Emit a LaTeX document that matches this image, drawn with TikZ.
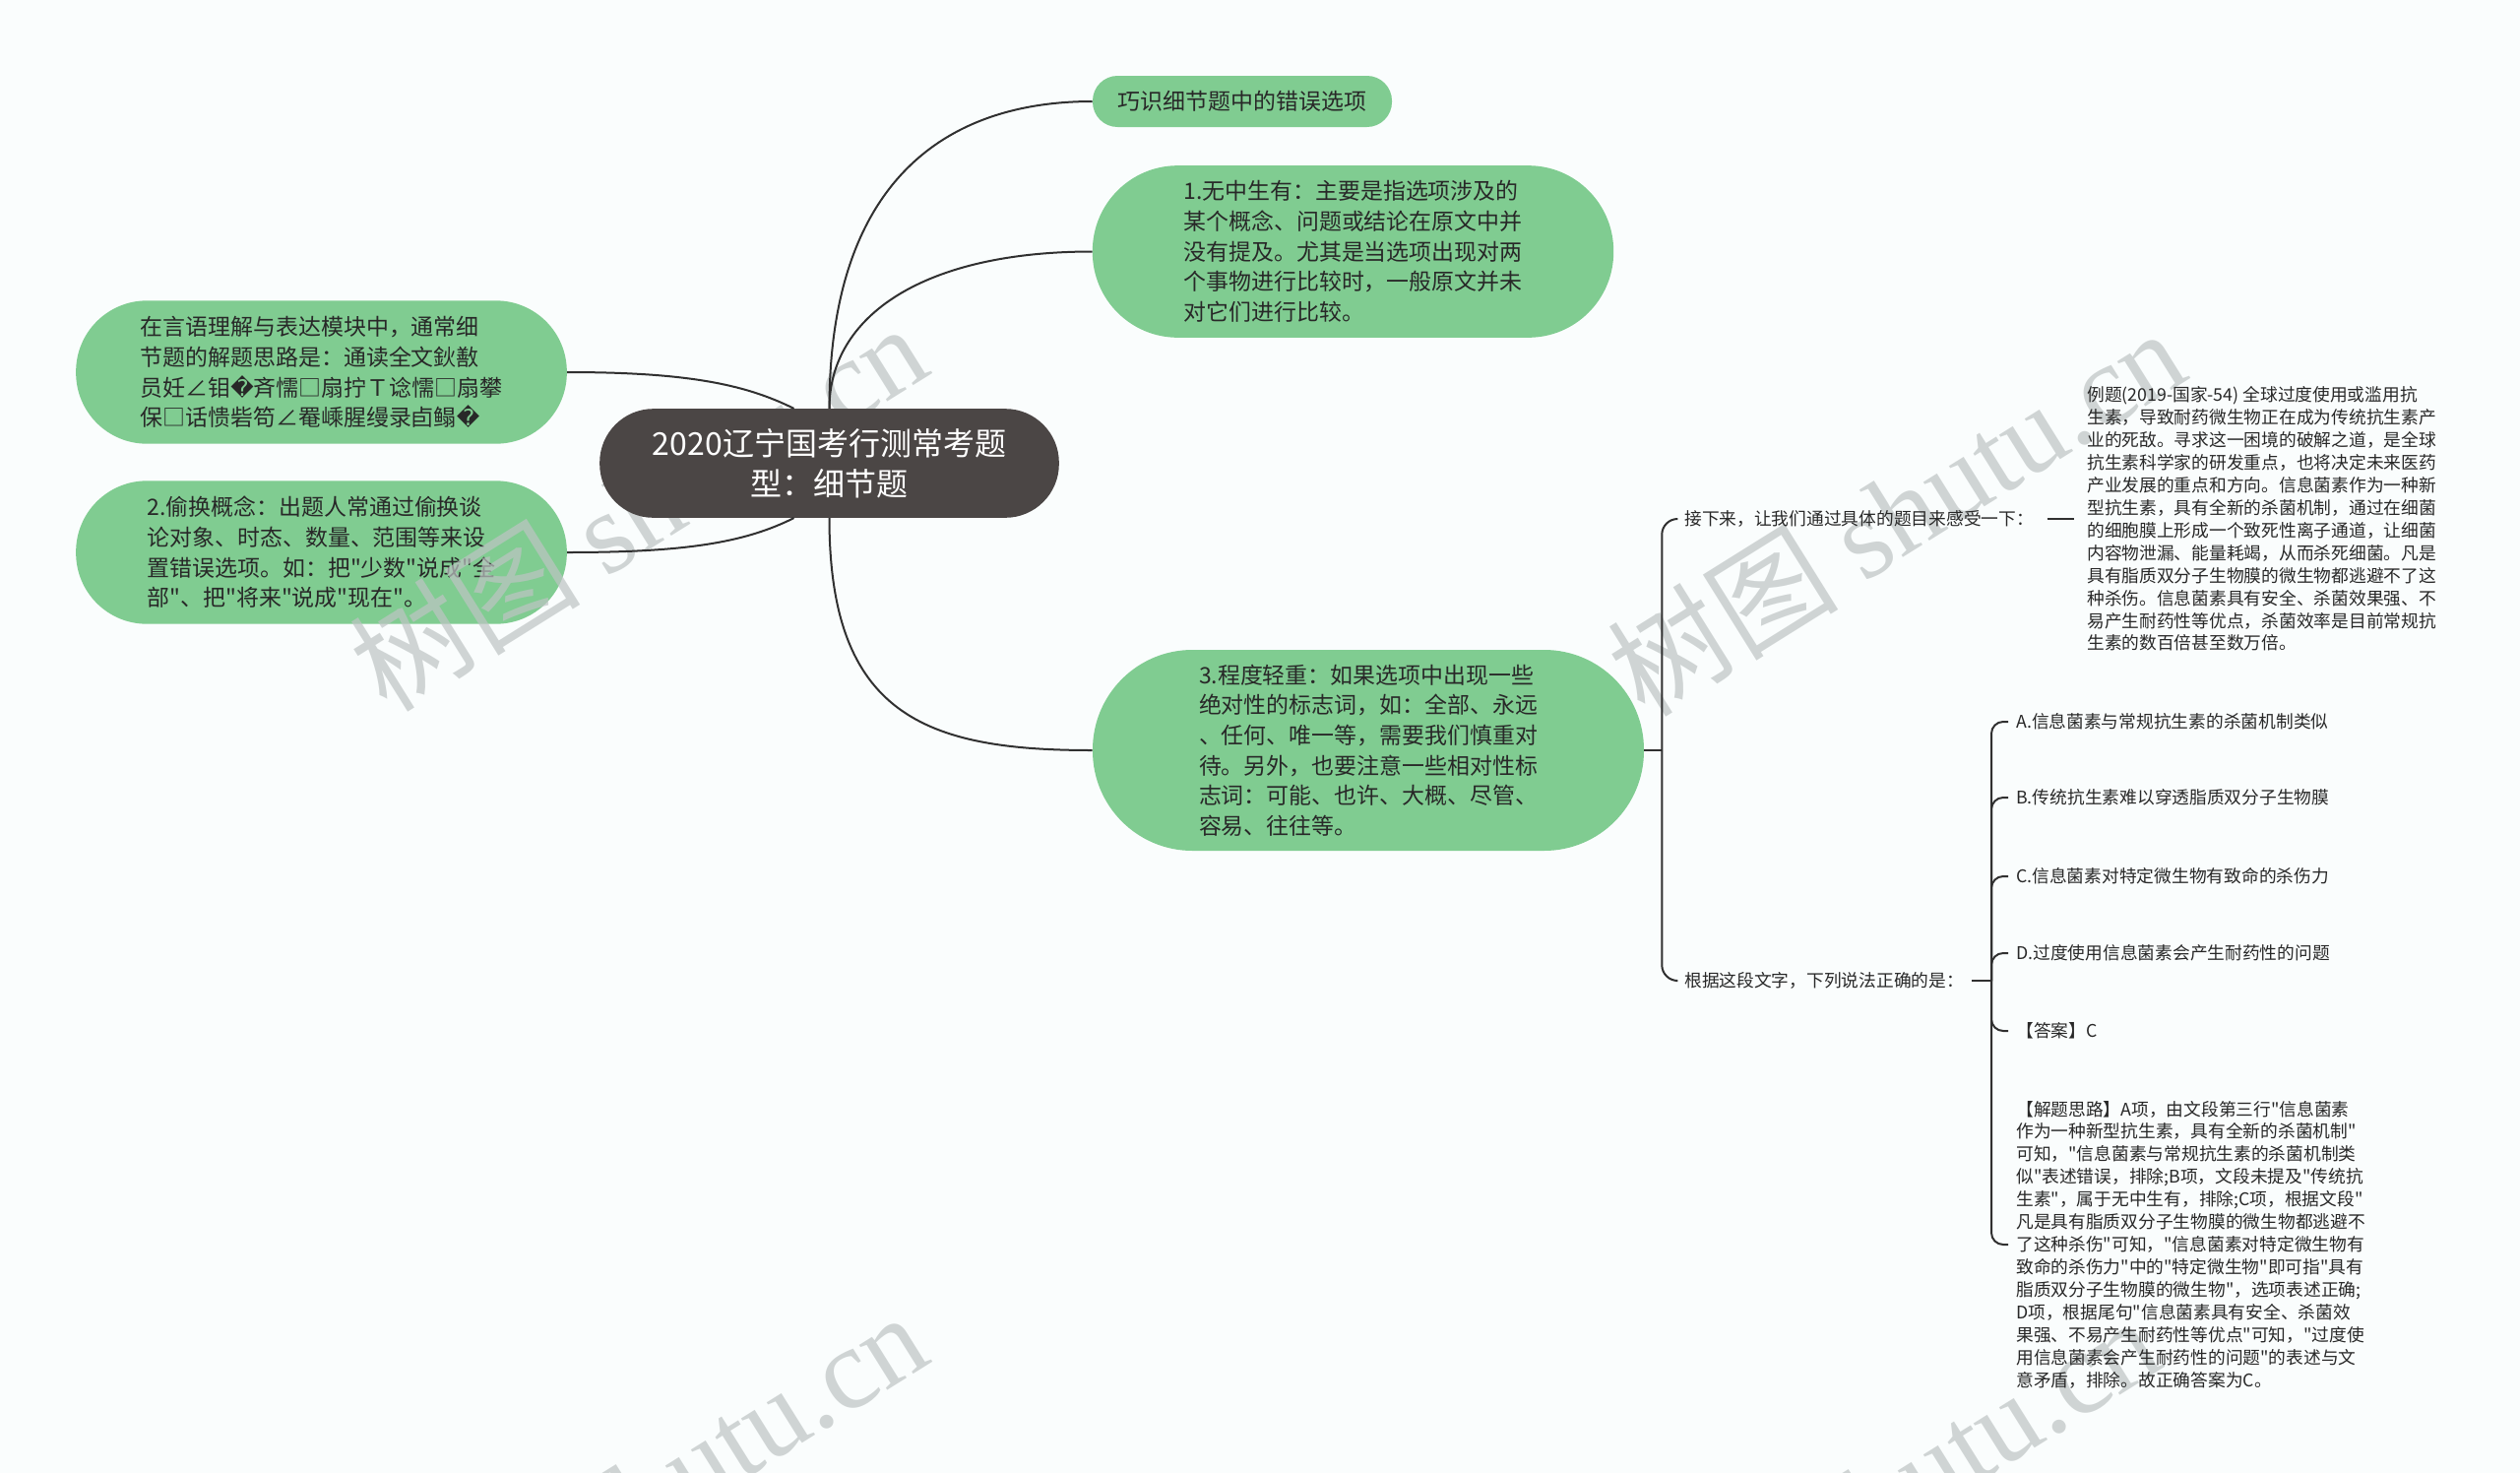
\documentclass[tikz,border=0pt]{standalone}
\usepackage{fontspec}
\newfontfamily\cjk{Noto Sans CJK SC}
\newfontfamily\dejavu{DejaVu Sans}
\newfontfamily\wmserif{Liberation Serif}
\usetikzlibrary{positioning}
\usetikzlibrary{calc}

\definecolor{mapgreen}{RGB}{128,204,145}
\definecolor{rootgray}{RGB}{75,70,69}
\definecolor{linkgray}{RGB}{48,48,48}
\definecolor{textgray}{RGB}{40,40,40}
\definecolor{pagebg}{RGB}{250,253,253}
\definecolor{wmgray}{RGB}{190,196,196}

\newcommand{\badchar}{{\dejavu\char"FFFD}}

\begin{document}
\begin{tikzpicture}[
        x=0.75pt, y=-0.75pt,
        link/.style={draw=linkgray, line width=1.5pt},
        pill/.style={fill=mapgreen, text=textgray, align=left, inner sep=0pt,
                    font={\cjk\fontsize{17.2}{23}\selectfont}},
        rootbox/.style={fill=rootgray, text=white, align=center, inner sep=0pt,
                    minimum width=350pt, minimum height=83pt, rounded corners=41pt,
                    font={\cjk\fontsize{24}{31}\selectfont}},
        leaf/.style={text=textgray, align=left, inner sep=6pt, anchor=west,
                    font={\cjk\fontsize{13.3}{17.2}\selectfont}},
        watermark/.style={text=wmgray, text opacity=0.7, rotate=32,
                    font={\cjk\fontsize{88}{88}\selectfont}}
    ]

    \fill[pagebg] (0,0) rectangle (2560,1496);
    \useasboundingbox (0,0) rectangle (2560,1496);
    \clip (0,0) rectangle (2560,1496);

    % ------- first level -------
    \node[pill, minimum width=228pt, minimum height=39pt, rounded corners=19pt]
        (r0) at (1262,103) {巧识细节题中的错误选项};
    \node[pill, minimum width=397pt, minimum height=131pt, rounded corners=65pt]
        (r1) at (1374.5,255.5) {1.无中生有：主要是指选项涉及的\\某个概念、问题或结论在原文中并\\没有提及。尤其是当选项出现对两\\个事物进行比较时，一般原文并未\\对它们进行比较。};
    \node[pill, minimum width=420pt, minimum height=153pt, rounded corners=76pt]
        (r3) at (1390,762) {3.程度轻重：如果选项中出现一些\\绝对性的标志词，如：全部、永远\\、任何、唯一等，需要我们慎重对\\待。另外，也要注意一些相对性标\\志词：可能、也许、大概、尽管、\\容易、往往等。};

    \node[pill, minimum width=374pt, minimum height=109pt, rounded corners=54pt]
        (l1) at (326.5,378) {在言语理解与表达模块中，通常细\\节题的解题思路是：通读全文鈥敾\\员妊∠钼\badchar 斉懦□扇拧Ｔ谂懦□扇攀\\保□话愦砦笱∠罨嵊腥缦录卣鳎\badchar};
    \node[pill, minimum width=374pt, minimum height=109pt, rounded corners=54pt]
        (l2) at (326.5,561) {2.偷换概念：出题人常通过偷换谈\\论对象、时态、数量、范围等来设\\置错误选项。如：把"少数"说成"全\\部"、把"将来"说成"现在"。};

    % watermarks
    \foreach \wx/\wy in {648/514, 1926/519, 648/1518, 1900/1523}
        \node[watermark] at (\wx,\wy) {树图 {\wmserif shutu.cn}};

    % ------- centre -------
    \node[rootbox] (root) at (842.5,470.5) {2020辽宁国考行测常考题\\型：细节题};

    \draw[link] (root.north) .. controls +(0,-230) and +(-150,0) .. (r0.west);
    \draw[link] (root.north) .. controls +(0,-95) and +(-170,0) .. (r1.west);
    \draw[link] (root.south) .. controls +(0,200) and +(-170,0) .. (r3.west);
    \draw[link] ($(root.north)+(-36,0)$) .. controls +(-50,-25) and +(120,0) .. (l1.east);
    \draw[link] ($(root.south)+(-36,0)$) .. controls +(-50,25) and +(120,0) .. (l2.east);

    % ------- example question -------
    \node[leaf] (q1) at (1703,527) {接下来，让我们通过具体的题目来感受一下：};
    \node[leaf] (q2) at (1703,996) {根据这段文字，下列说法正确的是：};
    \node[leaf] (ex) at (2112,527) {例题(2019-国家-54) 全球过度使用或滥用抗\\生素，导致耐药微生物正在成为传统抗生素产\\业的死敌。寻求这一困境的破解之道，是全球\\抗生素科学家的研发重点，也将决定未来医药\\产业发展的重点和方向。信息菌素作为一种新\\型抗生素，具有全新的杀菌机制，通过在细菌\\的细胞膜上形成一个致死性离子通道，让细菌\\内容物泄漏、能量耗竭，从而杀死细菌。凡是\\具有脂质双分子生物膜的微生物都逃避不了这\\种杀伤。信息菌素具有安全、杀菌效果强、不\\易产生耐药性等优点，杀菌效率是目前常规抗\\生素的数百倍甚至数万倍。};

    \coordinate (b1) at ($(r3.east)+(18,0)$);
    \draw[link] (r3.east) -- (b1);
    \draw[link, rounded corners=12pt] (b1) |- (q1.west);
    \draw[link, rounded corners=12pt] (b1) |- (q2.west);
    \draw[link, shorten <=4pt, shorten >=4pt] (q1.east) -- (ex.west);

    % ------- options and answer -------
    \node[leaf] (oA) at (2040,733) {A.信息菌素与常规抗生素的杀菌机制类似};
    \node[leaf] (oB) at (2040,810) {B.传统抗生素难以穿透脂质双分子生物膜};
    \node[leaf] (oC) at (2040,890) {C.信息菌素对特定微生物有致命的杀伤力};
    \node[leaf] (oD) at (2040,968) {D.过度使用信息菌素会产生耐药性的问题};
    \node[leaf] (oE) at (2040,1047) {【答案】C};
    \node[leaf] (oF) at (2040,1264) {【解题思路】A项，由文段第三行"信息菌素\\作为一种新型抗生素，具有全新的杀菌机制"\\可知，"信息菌素与常规抗生素的杀菌机制类\\似"表述错误，排除;B项，文段未提及"传统抗\\生素"，属于无中生有，排除;C项，根据文段"\\凡是具有脂质双分子生物膜的微生物都逃避不\\了这种杀伤"可知，"信息菌素对特定微生物有\\致命的杀伤力"中的"特定微生物"即可指"具有\\脂质双分子生物膜的微生物"，选项表述正确;\\D项，根据尾句"信息菌素具有安全、杀菌效\\果强、不易产生耐药性等优点"可知，"过度使\\用信息菌素会产生耐药性的问题"的表述与文\\意矛盾，排除。故正确答案为C。};

    \coordinate (b2) at ($(q2.east -| oA.west)+(-17,0)$);
    \draw[link] (q2.east) -- (b2);
    \foreach \opt in {oA,oB,oC,oD,oE,oF}
        \draw[link, rounded corners=9pt] (b2) |- (\opt.west);

\end{tikzpicture}
\end{document}
